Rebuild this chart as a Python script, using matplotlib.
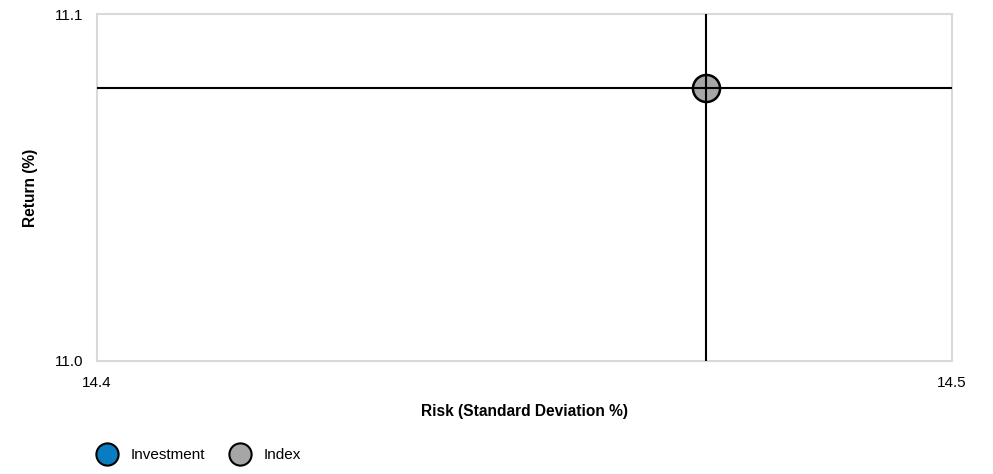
import matplotlib
matplotlib.use("Agg")
import matplotlib.pyplot as plt
from matplotlib.lines import Line2D

plt.rcParams['font.family'] = ['Liberation Sans', 'DejaVu Sans']

# Risk / return data
series_names = ["Investment", "Index"]
series_colors = ["#0a7cc1", "#a6a6a6"]
index_risk = [14.4712]
index_return = [11.0787]
x_ticks = [14.4, 14.5]
y_ticks = [11.0, 11.1]
x_tick_labels = ["14.4", "14.5"]
y_tick_labels = ["11.0", "11.1"]

fig = plt.figure(figsize=(9.93, 4.74), dpi=100)
ax = fig.add_axes([97 / 993, 1 - 361 / 474, (952 - 97) / 993, (361 - 14) / 474])

ax.scatter(index_risk, index_return, s=380, color=series_colors[1],
           edgecolor="black", linewidth=1.8, zorder=3)
ax.axvline(index_risk[0], color="black", linewidth=1.5, zorder=4)
ax.axhline(index_return[0], color="black", linewidth=1.5, zorder=4)

ax.set_xlim(x_ticks[0], x_ticks[-1])
ax.set_ylim(y_ticks[0], y_ticks[-1])
ax.set_xticks(x_ticks)
ax.set_xticklabels(x_tick_labels)
ax.set_yticks(y_ticks)
ax.set_yticklabels(y_tick_labels)
ax.tick_params(length=0, labelsize=11, colors="black")
ax.tick_params(axis="x", pad=11)
ax.tick_params(axis="y", pad=10)
for sp in ax.spines.values():
    sp.set_color("#d9d9d9")
    sp.set_linewidth(1.5)

ax.set_xlabel("Risk (Standard Deviation %)", fontsize=11.2, fontweight="bold")
ax.xaxis.set_label_coords(0.5, -(404 - 361) / 347, transform=ax.transAxes)
ax.set_ylabel("Return (%)", fontsize=11.2, fontweight="bold")
ax.yaxis.set_label_coords(-(97 - 38) / 855, 0.5, transform=ax.transAxes)

handles = [Line2D([0], [0], marker="o", linestyle="none", markersize=16,
                  markerfacecolor=c, markeredgecolor="black", markeredgewidth=1.5)
           for c in series_colors]
fig.legend(handles, series_names, loc="center left", bbox_to_anchor=(95 / 993, 1 - 455 / 474),
           ncol=2, frameon=False, fontsize=11, handletextpad=0.75, columnspacing=1.45,
           handlelength=1.6, borderaxespad=0.0, borderpad=0.0)

fig.savefig("out.png", dpi=100)
